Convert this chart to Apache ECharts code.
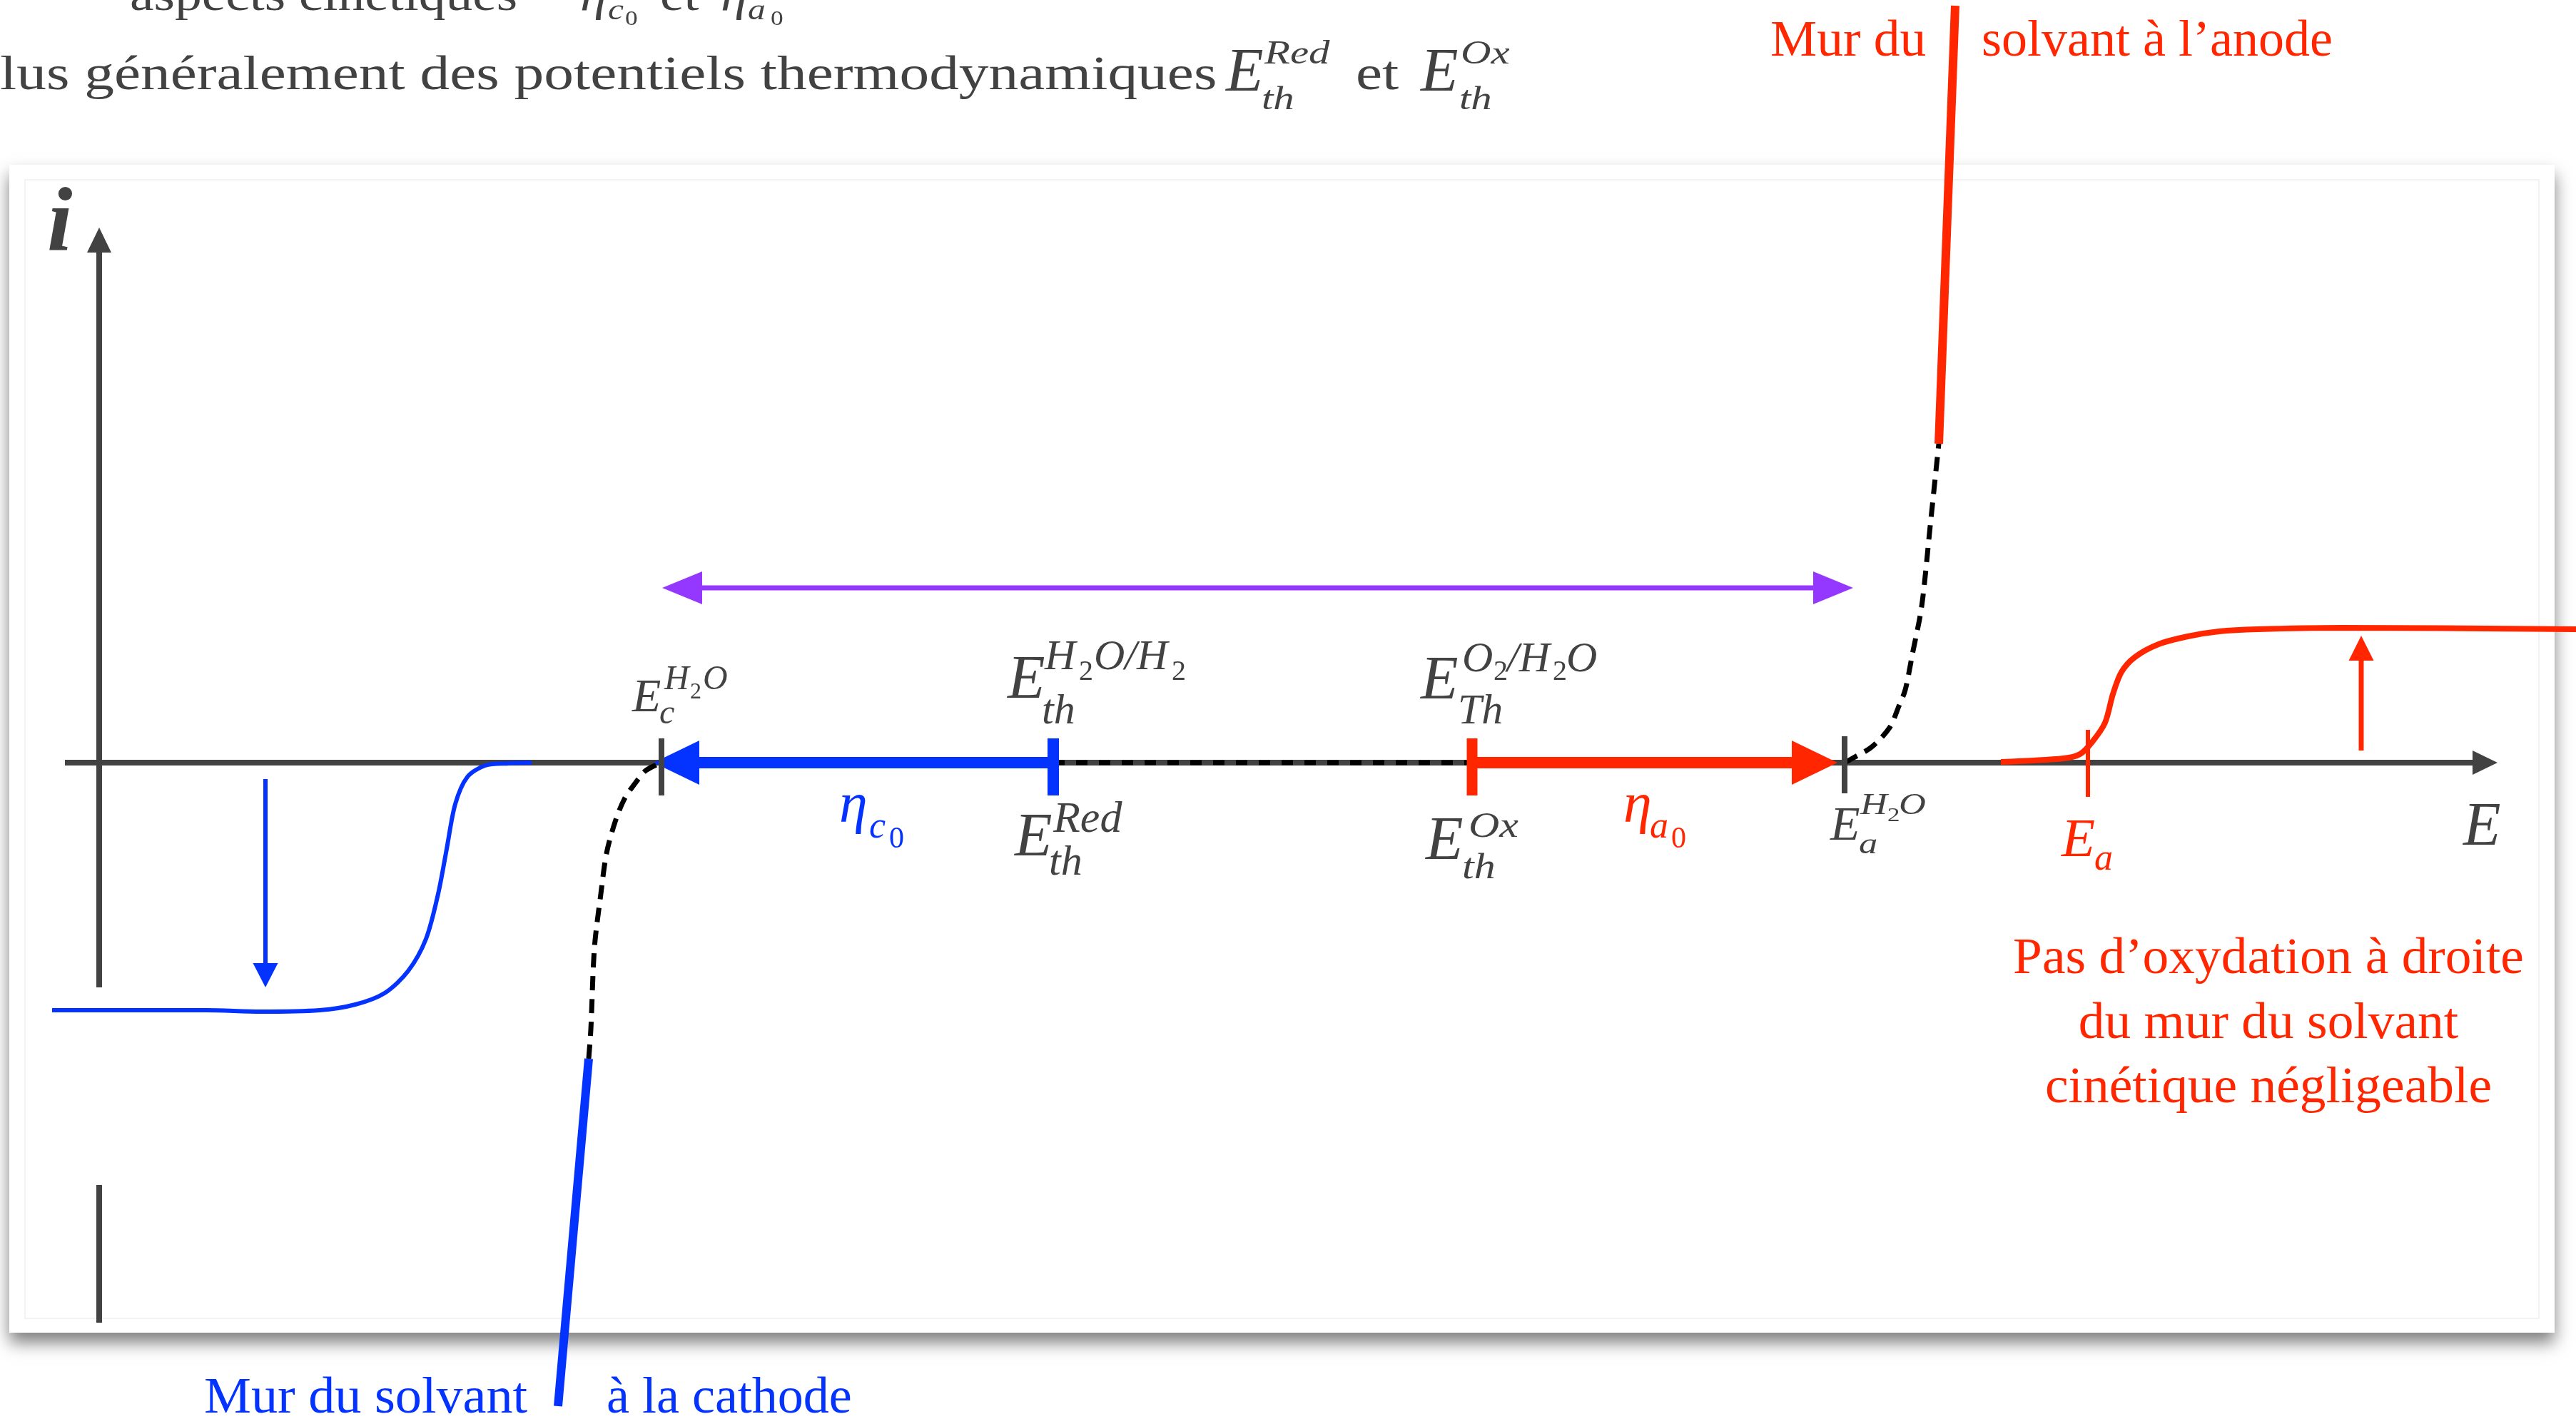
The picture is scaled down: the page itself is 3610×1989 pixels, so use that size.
<!DOCTYPE html>
<html>
<head>
<meta charset="utf-8">
<script src="https://cdn.jsdelivr.net/npm/echarts/dist/echarts.min.js"></script>
<style>
  html, body { margin: 0; padding: 0; background: #ffffff; }
  #chart { width: 3610px; height: 1989px; }
</style>
</head>
<body>
<div id="chart"></div>
<script>
// ---- data (E and i in arbitrary units, i = 0 on the potential axis) ----

// potentials marked on the E axis: E_c(H2O), E_th^Red, E_th^Ox, E_a(H2O), E_a
const markedPotentials = [927, 1476, 2063, 2585, 2926];

// reduction wave (cathodic, limiting current below the axis)
const reductionWave = [
  [73, -347], [290, -347], [365, -349], [448, -347], [498, -339], [539, -323],
  [572, -292], [597, -247], [614, -184], [626, -121], [638, -58], [655, -20],
  [680, -4], [713, -1], [745, 0]
];

// oxidation wave, right of the anodic solvent wall
const oxidationWave = [
  [2804, 1], [2892, 6], [2915, 12], [2932, 29], [2950, 56], [2961, 96],
  [2973, 127], [2992, 148], [3025, 166], [3066, 177], [3110, 184],
  [3164, 187], [3280, 189], [3610, 187]
];

// solvent walls: dashed foot then the steep wall
const cathodicFoot = [
  [825, -415], [828, -374], [833, -260], [842, -184], [850, -127], [862, -83],
  [875, -51], [890, -29], [905, -11], [927, 0]
];
const cathodicWall = [[825, -415], [782, -902]];
const anodicFoot = [
  [2585, 0], [2596, 6], [2623, 22], [2648, 49], [2661, 79], [2670, 102],
  [2680, 152], [2693, 219], [2705, 332], [2717, 447]
];
const anodicWall = [[2717, 447], [2740, 1061]];

// electrochemical window of the solvent
const solventWindow = [928, 2597];
const windowLevel = 245;

// limiting currents: [E, i start, i end]
const limitingArrows = [[372, -23, -315], [3309, 17, 178]];

// axes: E axis extent, i axis position and its drawn parts
const potentialAxis = [91, 3500];
const currentAxisE = 139;
const currentAxisParts = [[-315, 750], [-592, -785]];

// ---- styles ----
const GRAY = '#424242', BLUE = '#0433FF', RED = '#FF2600', PURPLE = '#9437FF', BLACK = '#000000';
const SERIF = '"Liberation Serif", "Times New Roman", serif';

const tickStyles = [
  { color: GRAY, width: 8, up: 34, down: 46 },
  { color: BLUE, width: 16, up: 34, down: 46 },
  { color: RED, width: 15, up: 34, down: 46 },
  { color: GRAY, width: 8, up: 37, down: 43 },
  { color: RED, width: 6, up: 46, down: 48 }
];

// ---- arrow / segment renderer for custom series ----
function arrowRenderer(styles) {
  return function (params, api) {
    const st = styles[params.dataIndex];
    const a = api.coord([api.value(0), api.value(1)]);
    const b = api.coord([api.value(2), api.value(3)]);
    let dx = b[0] - a[0], dy = b[1] - a[1];
    const len = Math.hypot(dx, dy) || 1;
    dx /= len; dy /= len;
    const gap = st.gap || 0;
    const tip = [b[0] - dx * gap, b[1] - dy * gap];
    const kids = [];
    const head = function (p, sx, sy) {
      const base = [p[0] - sx * st.headLen, p[1] - sy * st.headLen];
      const hw = st.headWidth / 2;
      kids.push({
        type: 'polygon',
        shape: { points: [p, [base[0] - sy * hw, base[1] + sx * hw], [base[0] + sy * hw, base[1] - sx * hw]] },
        style: { fill: st.color, stroke: null }
      });
      return [base[0] + sx * 2, base[1] + sy * 2];
    };
    let start = a, end = tip;
    if (st.headLen) end = head(tip, dx, dy);
    if (st.both) start = head(a, -dx, -dy);
    kids.unshift({
      type: 'line',
      shape: { x1: start[0], y1: start[1], x2: end[0], y2: end[1] },
      style: { stroke: st.color, lineWidth: st.width, lineCap: 'butt', fill: null }
    });
    return { type: 'group', children: kids };
  };
}

function segmentSeries(name, data, styles, z) {
  return {
    type: 'custom', name: name, coordinateSystem: 'cartesian2d', z: z, silent: true,
    encode: { x: [0, 2], y: [1, 3] }, data: data, renderItem: arrowRenderer(styles)
  };
}

function curve(name, data, color, width, dash, z, smooth) {
  return {
    type: 'line', name: name, data: data, symbol: 'none', showSymbol: false,
    smooth: smooth || false, clip: false, z: z, silent: true,
    lineStyle: { color: color, width: width, type: dash || 'solid', cap: 'butt' }
  };
}

// axes
const axisData = [
  [potentialAxis[0], 0, potentialAxis[1], 0],
  [currentAxisE, currentAxisParts[0][0], currentAxisE, currentAxisParts[0][1]],
  [currentAxisE, currentAxisParts[1][0], currentAxisE, currentAxisParts[1][1]]
];
const axisStyles = [
  { color: GRAY, width: 8, headLen: 35, headWidth: 34 },
  { color: GRAY, width: 8, headLen: 35, headWidth: 34 },
  { color: GRAY, width: 8 }
];

// overpotential arrows (from E_th to the wall foot) and the window arrow
const P = markedPotentials;
const arrowData = [
  [P[1], 0, P[0], 0],
  [P[2], 0, P[3], 0],
  [solventWindow[0], windowLevel, solventWindow[1], windowLevel],
  [limitingArrows[0][0], limitingArrows[0][1], limitingArrows[0][0], limitingArrows[0][2]],
  [limitingArrows[1][0], limitingArrows[1][1], limitingArrows[1][0], limitingArrows[1][2]]
];
const arrowStyles = [
  { color: BLUE, width: 16, headLen: 64, headWidth: 62, gap: -11 },
  { color: RED, width: 16, headLen: 64, headWidth: 62, gap: 10 },
  { color: PURPLE, width: 7, headLen: 56, headWidth: 46, both: true },
  { color: BLUE, width: 6, headLen: 34, headWidth: 35 },
  { color: RED, width: 7, headLen: 35, headWidth: 35 }
];

// ---- text ----
// (x, base) = left or centre of the text and its alphabetic baseline
function txt(text, x, base, size, color, style, align, sx) {
  return {
    type: 'text', x: x, y: base - 0.24 * size, z: 100, scaleX: sx || 1, silent: true,
    style: {
      text: text, fill: color, font: (style || '') + ' ' + size + 'px ' + SERIF,
      align: align || 'left', verticalAlign: 'middle'
    }
  };
}

const texts = [
  // page text above the figure
  txt('aspects cinétiques', 182, 13, 64, GRAY, '', 'left', 1.18),
  txt('η', 813, 13, 64, GRAY, 'italic', 'left', 1.18),
  txt('c', 852, 26, 42, GRAY, 'italic', 'left', 1.18),
  txt('0', 876, 34, 30, GRAY, '', 'left', 1.18),
  txt('et', 925, 13, 64, GRAY, '', 'left', 1.18),
  txt('η', 1010, 13, 64, GRAY, 'italic', 'left', 1.18),
  txt('a', 1048, 26, 42, GRAY, 'italic', 'left', 1.18),
  txt('0', 1080, 34, 30, GRAY, '', 'left', 1.18),
  txt('lus généralement des potentiels thermodynamiques', 0, 123, 68, GRAY, '', 'left', 1.227),
  txt('E', 1718, 125, 86, GRAY, 'italic'),
  txt('Red', 1772, 88, 46, GRAY, 'italic', 'left', 1.28),
  txt('th', 1768, 152, 46, GRAY, 'italic', 'left', 1.28),
  txt('et', 1900, 123, 68, GRAY, '', 'left', 1.227),
  txt('E', 1991, 125, 86, GRAY, 'italic'),
  txt('Ox', 2047, 88, 46, GRAY, 'italic', 'left', 1.28),
  txt('th', 2045, 152, 46, GRAY, 'italic', 'left', 1.28),

  // wall captions
  txt('Mur du', 2481, 76, 72, RED, '', 'left', 1.02),
  txt('solvant à l’anode', 2777, 76, 72, RED, '', 'left', 1.0),
  txt('Mur du solvant', 286, 1978, 72, BLUE, '', 'left', 1.03),
  txt('à la cathode', 850, 1978, 72, BLUE, '', 'left', 1.0),
  txt('Pas d’oxydation à droite', 3179, 1362, 72, RED, '', 'center', 1.02),
  txt('du mur du solvant', 3179, 1453, 72, RED, '', 'center', 1.02),
  txt('cinétique négligeable', 3179, 1543, 72, RED, '', 'center', 1.02),

  // axis names
  txt('i', 66, 348, 128, GRAY, 'italic bold'),
  txt('E', 3452, 1182, 86, GRAY, 'italic'),

  // E_c^{H2O}
  txt('E', 886, 995, 66, GRAY, 'italic'),
  txt('H', 931, 965, 48, GRAY, 'italic'),
  txt('2', 967, 978, 32, GRAY, ''),
  txt('O', 985, 965, 48, GRAY, 'italic'),
  txt('c', 924, 1013, 48, GRAY, 'italic'),

  // E_th^{H2O/H2}
  txt('E', 1412, 976, 86, GRAY, 'italic'),
  txt('H', 1464, 937, 60, GRAY, 'italic'),
  txt('2', 1512, 952, 40, GRAY, ''),
  txt('O/H', 1533, 937, 60, GRAY, 'italic'),
  txt('2', 1642, 952, 40, GRAY, ''),
  txt('th', 1460, 1013, 60, GRAY, 'italic'),

  // E_th^Red
  txt('E', 1422, 1197, 86, GRAY, 'italic'),
  txt('Red', 1476, 1165, 62, GRAY, 'italic'),
  txt('th', 1470, 1225, 60, GRAY, 'italic'),

  // eta_c0
  txt('η', 1176, 1150, 80, BLUE, 'italic'),
  txt('c', 1218, 1173, 52, BLUE, 'italic'),
  txt('0', 1246, 1187, 42, BLUE, ''),

  // E_Th^{O2/H2O}
  txt('E', 1991, 977, 86, GRAY, 'italic'),
  txt('O', 2049, 940, 60, GRAY, 'italic'),
  txt('2', 2093, 952, 40, GRAY, ''),
  txt('/H', 2112, 940, 60, GRAY, 'italic'),
  txt('2', 2176, 952, 40, GRAY, ''),
  txt('O', 2195, 940, 60, GRAY, 'italic'),
  txt('Th', 2043, 1013, 60, GRAY, 'italic'),

  // E_th^Ox
  txt('E', 1998, 1202, 86, GRAY, 'italic'),
  txt('Ox', 2058, 1172, 50, GRAY, 'italic', 'left', 1.2),
  txt('th', 2049, 1230, 50, GRAY, 'italic', 'left', 1.2),

  // eta_a0
  txt('η', 2275, 1150, 80, RED, 'italic'),
  txt('a', 2312, 1173, 52, RED, 'italic'),
  txt('0', 2342, 1187, 42, RED, ''),

  // E_a^{H2O}
  txt('E', 2565, 1175, 68, GRAY, 'italic'),
  txt('H', 2607, 1140, 42, GRAY, 'italic', 'left', 1.25),
  txt('2', 2645, 1150, 28, GRAY, '', 'left', 1.25),
  txt('O', 2661, 1140, 42, GRAY, 'italic', 'left', 1.25),
  txt('a', 2605, 1195, 42, GRAY, 'italic', 'left', 1.25),

  // E_a
  txt('E', 2889, 1198, 77, RED, 'italic'),
  txt('a', 2935, 1218, 52, RED, 'italic')
];

// figure frame with its drop shadow
const frame = [
  {
    type: 'rect', z: 0, silent: true,
    shape: { x: 13, y: 231, width: 3567, height: 1637 },
    style: { fill: '#ffffff', shadowBlur: 22, shadowOffsetY: 14, shadowColor: 'rgba(0,0,0,0.5)' }
  },
  {
    type: 'rect', z: 1, silent: true,
    shape: { x: 35, y: 252, width: 3523, height: 1596 },
    style: { fill: null, stroke: '#f3f3f3', lineWidth: 2 }
  }
];

const chart = echarts.init(document.getElementById('chart'), null, { renderer: 'canvas', width: 3610, height: 1989 });

chart.setOption({
  backgroundColor: '#ffffff',
  animation: false,
  grid: { left: 0, right: 0, top: 0, bottom: 0, containLabel: false },
  xAxis: { type: 'value', min: 0, max: 3610, show: false },
  yAxis: { type: 'value', min: -920, max: 1069, show: false },
  graphic: { elements: frame.concat(texts) },
  series: [
    segmentSeries('axes', axisData, axisStyles, 2),
    curve('dotted', [[P[1], 0], [P[2], 0]], BLACK, 7, [16, 16], 3),
    curve('reduction wave', reductionWave, BLUE, 6, 'solid', 4, 0.3),
    curve('oxidation wave', oxidationWave, RED, 8, 'solid', 4, 0.3),
    curve('cathodic foot', cathodicFoot, BLACK, 7, [20, 12], 4, 0.3),
    curve('anodic foot', anodicFoot, BLACK, 7, [20, 12], 4, 0.3),
    curve('cathodic wall', cathodicWall, BLUE, 12, 'solid', 4),
    curve('anodic wall', anodicWall, RED, 12, 'solid', 4),
    segmentSeries('arrows', arrowData, arrowStyles, 5),
    {
      type: 'custom', name: 'ticks', coordinateSystem: 'cartesian2d', z: 6, silent: true,
      data: markedPotentials.map(function (e) { return [e, 0]; }),
      renderItem: function (params, api) {
        const st = tickStyles[params.dataIndex];
        const p = api.coord([api.value(0), api.value(1)]);
        return {
          type: 'line',
          shape: { x1: p[0], y1: p[1] - st.up, x2: p[0], y2: p[1] + st.down },
          style: { stroke: st.color, lineWidth: st.width, fill: null }
        };
      }
    }
  ]
});
</script>
</body>
</html>
